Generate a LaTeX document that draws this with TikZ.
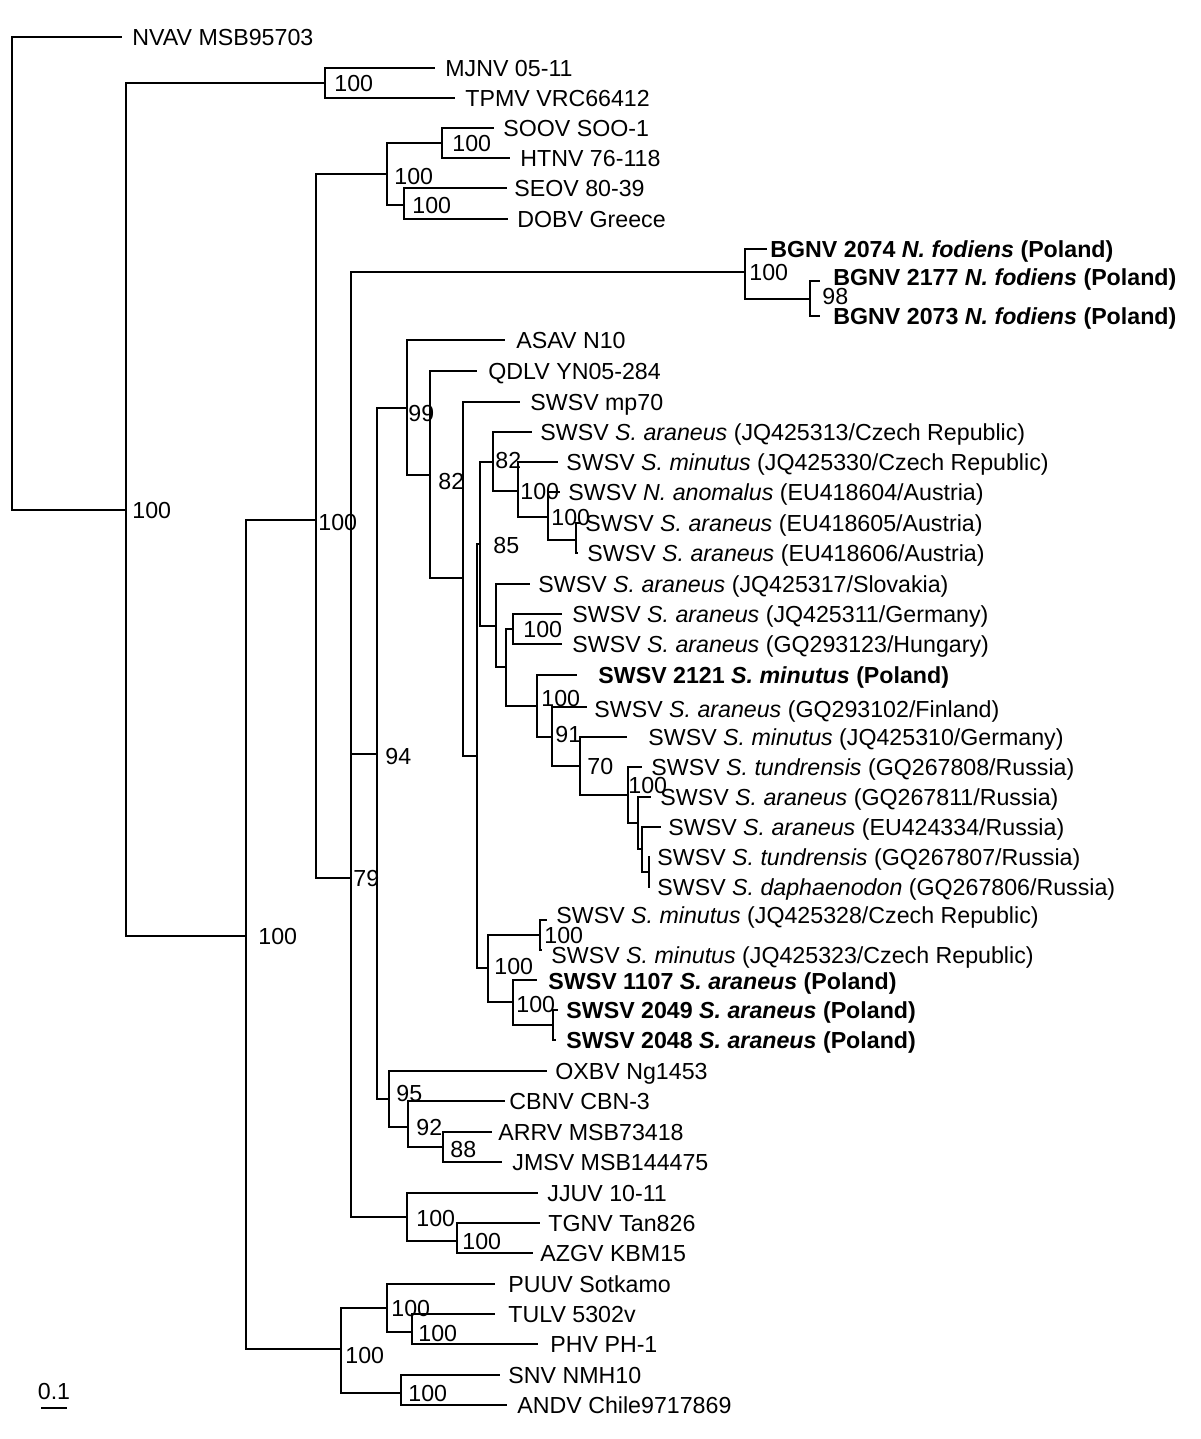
\documentclass[tikz,border=0pt]{standalone}
\usepackage{fontspec}
\setmainfont{Liberation Sans}
\newcommand{\tipleaf}[6]{%
  \coordinate (#1) at (#2,#3);
  \node[tiplabel] (L#1) at (#4,#5) {#6};}
\newcommand{\bsl}[4]{\node[bootlabel] (#1) at (#2,#3) {#4};}
\begin{document}
\begin{tikzpicture}[x=0.5pt,y=-0.5pt,
  branch/.style={line width=1pt},
  tiplabel/.style={anchor=west, inner sep=0pt, text height=8.3pt, text depth=0pt, font=\fontsize{11.6}{13}\selectfont},
  bootlabel/.style={tiplabel}]
\fill[white] (0,0) rectangle (1200,1439);
\useasboundingbox (0,0) rectangle (1200,1439);

% internal nodes
\coordinate (root) at (12,273.5);
\coordinate (A) at (126,510);
\coordinate (MT) at (325,83);
\coordinate (B) at (246,936);
\coordinate (C) at (316,520);
\coordinate (H) at (387,174);
\coordinate (SH) at (442,143);
\coordinate (SD) at (404,205);
\coordinate (n79) at (351,878);
\coordinate (BG) at (745,272);
\coordinate (BG2) at (810,298.5);
\coordinate (J) at (377,754);
\coordinate (P) at (407,408);
\coordinate (Q) at (430,475);
\coordinate (R) at (463,578);
\coordinate (FF) at (477,756);
\coordinate (U) at (480,544);
\coordinate (T) at (493,462);
\coordinate (V) at (518,491);
\coordinate (W) at (548,517);
\coordinate (X) at (576,540);
\coordinate (CC) at (496,626);
\coordinate (BB) at (506,667);
\coordinate (DD) at (513,629);
\coordinate (EE) at (537,706);
\coordinate (N91) at (552,737);
\coordinate (N70) at (580,766);
\coordinate (R100) at (628,795);
\coordinate (Y) at (638,823);
\coordinate (Z) at (642,849);
\coordinate (AA) at (649,872);
\coordinate (GG) at (488,968);
\coordinate (HH) at (540,935);
\coordinate (II) at (513,1002);
\coordinate (JJ) at (553,1025);
\coordinate (K) at (389,1099);
\coordinate (L) at (408,1127);
\coordinate (M) at (443,1147);
\coordinate (N) at (407,1217);
\coordinate (O) at (457,1241);
\coordinate (D) at (341,1349);
\coordinate (E) at (387,1308);
\coordinate (F) at (412,1332);
\coordinate (G) at (401,1393);

% tips
\tipleaf{tNVAV}{122}{37}{132}{37}{NVAV MSB95703}
\tipleaf{tMJNV}{435}{68}{445}{68}{MJNV 05-11}
\tipleaf{tTPMV}{455}{98}{465}{98}{TPMV VRC66412}
\tipleaf{tSOOV}{494}{128}{503}{128}{SOOV SOO-1}
\tipleaf{tHTNV}{510}{158}{520}{158}{HTNV 76-118}
\tipleaf{tSEOV}{507}{188}{514}{188}{SEOV 80-39}
\tipleaf{tDOBV}{508}{219}{517}{219}{DOBV Greece}
\tipleaf{tBa}{767}{249}{770}{249}{\bfseries BGNV 2074 \textit{N. fodiens} (Poland)}
\tipleaf{tBb}{820}{281}{833}{277}{\bfseries BGNV 2177 \textit{N. fodiens} (Poland)}
\tipleaf{tBc}{820}{316}{833}{316}{\bfseries BGNV 2073 \textit{N. fodiens} (Poland)}
\tipleaf{tASAV}{505}{340}{516}{340}{ASAV N10}
\tipleaf{tQDLV}{477}{371}{488}{371}{QDLV YN05-284}
\tipleaf{tMP}{520}{402}{530}{402}{SWSV mp70}
\tipleaf{ta}{532}{432}{540}{432}{SWSV \textit{S. araneus} (JQ425313/Czech Republic)}
\tipleaf{tb}{558}{462}{566}{462}{SWSV \textit{S. minutus} (JQ425330/Czech Republic)}
\tipleaf{tc}{560}{492}{568}{492}{SWSV \textit{N. anomalus} (EU418604/Austria)}
\tipleaf{td}{580}{523}{585}{523}{SWSV \textit{S. araneus} (EU418605/Austria)}
\tipleaf{te}{578}{553}{587}{553}{SWSV \textit{S. araneus} (EU418606/Austria)}
\tipleaf{tf}{530}{584}{538}{584}{SWSV \textit{S. araneus} (JQ425317/Slovakia)}
\tipleaf{tg}{562}{614}{572}{614}{SWSV \textit{S. araneus} (JQ425311/Germany)}
\tipleaf{th}{562}{644}{572}{644}{SWSV \textit{S. araneus} (GQ293123/Hungary)}
\tipleaf{ti}{577}{675}{598}{675}{\bfseries SWSV 2121 \textit{S. minutus} (Poland)}
\tipleaf{tj}{587}{707}{594}{709}{SWSV \textit{S. araneus} (GQ293102/Finland)}
\tipleaf{tk}{627}{737}{648}{737}{SWSV \textit{S. minutus} (JQ425310/Germany)}
\tipleaf{tl}{642}{767}{651}{767}{SWSV \textit{S. tundrensis} (GQ267808/Russia)}
\tipleaf{tm}{651}{797}{660}{797}{SWSV \textit{S. araneus} (GQ267811/Russia)}
\tipleaf{tn}{661}{827}{668}{827}{SWSV \textit{S. araneus} (EU424334/Russia)}
\tipleaf{to}{650}{857}{657}{857}{SWSV \textit{S. tundrensis} (GQ267807/Russia)}
\tipleaf{tp}{650}{887}{657}{887}{SWSV \textit{S. daphaenodon} (GQ267806/Russia)}
\tipleaf{tq}{547}{920}{556}{915}{SWSV \textit{S. minutus} (JQ425328/Czech Republic)}
\tipleaf{tr}{542}{950}{551}{955}{SWSV \textit{S. minutus} (JQ425323/Czech Republic)}
\tipleaf{ts}{537}{980}{548}{981}{\bfseries SWSV 1107 \textit{S. araneus} (Poland)}
\tipleaf{tt}{558}{1010}{566}{1010}{\bfseries SWSV 2049 \textit{S. araneus} (Poland)}
\tipleaf{tu}{556}{1040}{566}{1040}{\bfseries SWSV 2048 \textit{S. araneus} (Poland)}
\tipleaf{tOXBV}{547}{1071}{555}{1071}{OXBV Ng1453}
\tipleaf{tCBNV}{505}{1101}{509}{1101}{CBNV CBN-3}
\tipleaf{tARRV}{492}{1132}{498}{1132}{ARRV MSB73418}
\tipleaf{tJMSV}{502}{1162}{512}{1162}{JMSV MSB144475}
\tipleaf{tJJUV}{538}{1193}{547}{1193}{JJUV 10-11}
\tipleaf{tTGNV}{540}{1223}{548}{1223}{TGNV Tan826}
\tipleaf{tAZGV}{533}{1253}{540}{1253}{AZGV KBM15}
\tipleaf{tPUUV}{495}{1284}{508}{1284}{PUUV Sotkamo}
\tipleaf{tTULV}{495}{1314}{508}{1314}{TULV 5302v}
\tipleaf{tPHV}{538}{1344}{550}{1344}{PHV PH-1}
\tipleaf{tSNV}{500}{1375}{508}{1375}{SNV NMH10}
\tipleaf{tANDV}{507}{1405}{517}{1405}{ANDV Chile9717869}

% branches
\draw[branch] (root) |- (tNVAV); \draw[branch] (root) |- (A);
\draw[branch] (A) |- (MT); \draw[branch] (A) |- (B);
\draw[branch] (MT) |- (tMJNV); \draw[branch] (MT) |- (tTPMV);
\draw[branch] (B) |- (C); \draw[branch] (B) |- (D);
\draw[branch] (C) |- (H); \draw[branch] (C) |- (n79);
\draw[branch] (H) |- (SH); \draw[branch] (H) |- (SD);
\draw[branch] (SH) |- (tSOOV); \draw[branch] (SH) |- (tHTNV);
\draw[branch] (SD) |- (tSEOV); \draw[branch] (SD) |- (tDOBV);
\draw[branch] (n79) |- (BG); \draw[branch] (n79) |- (J); \draw[branch] (n79) |- (N);
\draw[branch] (BG) |- (tBa); \draw[branch] (BG) |- (BG2);
\draw[branch] (BG2) |- (tBb); \draw[branch] (BG2) |- (tBc);
\draw[branch] (J) |- (P); \draw[branch] (J) |- (K);
\draw[branch] (P) |- (tASAV); \draw[branch] (P) |- (Q);
\draw[branch] (Q) |- (tQDLV); \draw[branch] (Q) |- (R);
\draw[branch] (R) |- (tMP); \draw[branch] (R) |- (FF);
\draw[branch] (FF) |- (U); \draw[branch] (FF) |- (GG);
\draw[branch] (U) |- (T); \draw[branch] (U) |- (CC);
\draw[branch] (T) |- (ta); \draw[branch] (T) |- (V);
\draw[branch] (V) |- (tb); \draw[branch] (V) |- (W);
\draw[branch] (W) |- (tc); \draw[branch] (W) |- (X);
\draw[branch] (X) |- (td); \draw[branch] (X) |- (te);
\draw[branch] (CC) |- (tf); \draw[branch] (CC) |- (BB);
\draw[branch] (BB) |- (DD); \draw[branch] (BB) |- (EE);
\draw[branch] (DD) |- (tg); \draw[branch] (DD) |- (th);
\draw[branch] (EE) |- (ti); \draw[branch] (EE) |- (N91);
\draw[branch] (N91) |- (tj); \draw[branch] (N91) |- (N70);
\draw[branch] (N70) |- (tk); \draw[branch] (N70) |- (R100);
\draw[branch] (R100) |- (tl); \draw[branch] (R100) |- (Y);
\draw[branch] (Y) |- (tm); \draw[branch] (Y) |- (Z);
\draw[branch] (Z) |- (tn); \draw[branch] (Z) |- (AA);
\draw[branch] (AA) |- (to); \draw[branch] (AA) |- (tp);
\draw[branch] (GG) |- (HH); \draw[branch] (GG) |- (II);
\draw[branch] (HH) |- (tq); \draw[branch] (HH) |- (tr);
\draw[branch] (II) |- (ts); \draw[branch] (II) |- (JJ);
\draw[branch] (JJ) |- (tt); \draw[branch] (JJ) |- (tu);
\draw[branch] (K) |- (tOXBV); \draw[branch] (K) |- (L);
\draw[branch] (L) |- (tCBNV); \draw[branch] (L) |- (M);
\draw[branch] (M) |- (tARRV); \draw[branch] (M) |- (tJMSV);
\draw[branch] (N) |- (tJJUV); \draw[branch] (N) |- (O);
\draw[branch] (O) |- (tTGNV); \draw[branch] (O) |- (tAZGV);
\draw[branch] (D) |- (E); \draw[branch] (D) |- (G);
\draw[branch] (E) |- (tPUUV); \draw[branch] (E) |- (F);
\draw[branch] (F) |- (tTULV); \draw[branch] (F) |- (tPHV);
\draw[branch] (G) |- (tSNV); \draw[branch] (G) |- (tANDV);

% bootstrap values
\bsl{bA}{132}{510}{100}
\bsl{bMT}{334}{83}{100}
\bsl{bB}{258}{936}{100}
\bsl{bC}{318}{522}{100}
\bsl{bH}{394}{176}{100}
\bsl{bSH}{452}{143}{100}
\bsl{bSD}{412}{205}{100}
\bsl{b79}{353}{878}{79}
\bsl{bBG}{749}{272}{100}
\bsl{bBG2}{822}{296}{98}
\bsl{bJ}{385}{756}{94}
\bsl{bP}{408}{413}{99}
\bsl{bQ}{438}{481}{82}
\bsl{bU}{493}{545}{85}
\bsl{bT}{495}{460}{82}
\bsl{bV}{520}{491}{100}
\bsl{bW}{551}{517}{100}
\bsl{bDD}{523}{629}{100}
\bsl{bEE}{541}{698}{100}
\bsl{b91}{555}{734}{91}
\bsl{b70}{587}{766}{70}
\bsl{bR100}{628}{785}{100}
\bsl{bGG}{494}{966}{100}
\bsl{bHH}{544}{935}{100}
\bsl{bII}{516}{1004}{100}
\bsl{bK}{396}{1093}{95}
\bsl{bL}{416}{1127}{92}
\bsl{bM}{450}{1149}{88}
\bsl{bN}{416}{1218}{100}
\bsl{bO}{462}{1241}{100}
\bsl{bD}{345}{1355}{100}
\bsl{bE}{391}{1308}{100}
\bsl{bF}{418}{1333}{100}
\bsl{bG}{408}{1393}{100}

% scale bar
\coordinate (s1) at (41,1408);
\coordinate (s2) at (67,1408);
\draw[branch] (s1) -- (s2);
\node[bootlabel, anchor=center] (scalelbl) at (54,1391) {0.1};
\end{tikzpicture}
\end{document}
